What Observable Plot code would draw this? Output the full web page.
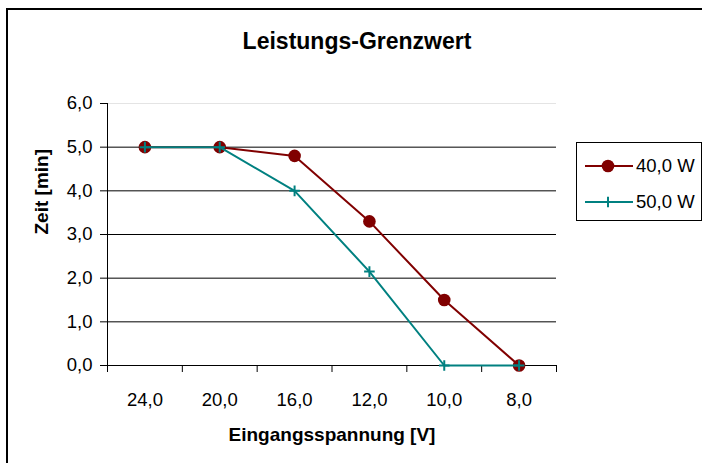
<!DOCTYPE html>
<html><head><meta charset="utf-8">
<script src="https://cdn.jsdelivr.net/npm/d3@7"></script>
<script src="https://cdn.jsdelivr.net/npm/@observablehq/plot@0.6"></script>
<style>
body{margin:0;background:#fff;overflow:hidden;font-family:"Liberation Sans",Arial,sans-serif;}
#wrap{position:relative;width:702px;height:463px;overflow:hidden;}
#chart{position:absolute;left:0;top:0;}
#border{position:absolute;left:6px;top:8px;width:800px;height:600px;border-left:2px solid #000;border-top:2px solid #000;pointer-events:none;}
#title{position:absolute;left:0;width:714px;top:29.5px;line-height:23px;text-align:center;font-weight:bold;font-size:23px;color:#000;}
#legend{position:absolute;left:576px;top:142px;width:124px;height:77px;border:1px solid #000;background:#fff;}
</style>
</head><body>
<div id="wrap">
  <div id="chart"></div>
  <div id="border"></div>
  <div id="title"></div>
  <div id="legend"></div>
</div>
<script>
const titleText = "Leistungs-Grenzwert";
const xTitle = "Eingangsspannung [V]";
const yTitle = "Zeit [min]";
const categories = ["24,0", "20,0", "16,0", "12,0", "10,0", "8,0"];
const series40 = [5.0, 5.0, 4.8, 3.3, 1.5, 0.0];
const series50 = [5.0, 5.0, 4.0, 2.15, 0.0, 0.0];
const seriesNames = ["40,0 W", "50,0 W"];
const seriesColors = ["#800000", "#008080"];
const yTicks = [0, 1, 2, 3, 4, 5, 6];

const fmt = d => d3.format(".1f")(d).replace(".", ",");
const idx = categories.map((_, i) => i);
const bounds = d3.range(categories.length + 1).map(i => i - 0.5);
const d40 = categories.map((c, i) => ({i, v: series40[i]}));
const d50 = categories.map((c, i) => ({i, v: series50[i]}));

const plusSymbol = {
  draw(ctx, size) {
    const r = Math.sqrt(size / Math.PI);
    ctx.moveTo(-r, 0); ctx.lineTo(r, 0);
    ctx.moveTo(0, -r); ctx.lineTo(0, r);
  }
};

const chart = Plot.plot({
  width: 702, height: 463,
  marginLeft: 107, marginRight: 146, marginTop: 103, marginBottom: 98,
  style: {fontFamily: "Liberation Sans, Arial, sans-serif", fontSize: "18.5px", color: "#000", background: "transparent"},
  x: {type: "linear", domain: [-0.5, categories.length - 0.5], axis: null, label: null},
  y: {domain: [0, 6], axis: null, label: null},
  marks: [
    Plot.ruleY(yTicks.filter(d => d > 0 && d < 6), {stroke: "#000", strokeWidth: 1}),
    Plot.ruleY(yTicks.filter(d => d === 6), {stroke: "#e4e4e4", strokeWidth: 1}),
    Plot.ruleY([0], {stroke: "#000", strokeWidth: 1}),
    Plot.ruleX([-0.5], {stroke: "#000", strokeWidth: 1}),
    Plot.axisY(yTicks, {tickSize: 7, tickPadding: 8, tickFormat: fmt, label: null, stroke: "#000"}),
    Plot.axisX(idx, {tickSize: 0, tickPadding: 27, tickFormat: i => categories[i], label: null}),
    Plot.axisX(bounds, {tickSize: 7, tickFormat: () => "", label: null, stroke: "#000"}),
    Plot.line(d40, {x: "i", y: "v", stroke: seriesColors[0], strokeWidth: 2}),
    Plot.dot(d40, {x: "i", y: "v", r: 6.3, fill: seriesColors[0], stroke: "none"}),
    Plot.line(d50, {x: "i", y: "v", stroke: seriesColors[1], strokeWidth: 2}),
    Plot.dot(d50, {x: "i", y: "v", r: 5.3, symbol: plusSymbol, stroke: seriesColors[1], strokeWidth: 2, fill: "none"}),
    Plot.text([yTitle], {text: d => d, frameAnchor: "left", dx: -66, rotate: -90, lineAnchor: "middle", fontWeight: "bold", fontSize: 19}),
    Plot.text([xTitle], {text: d => d, frameAnchor: "bottom", dy: 69, lineAnchor: "middle", fontWeight: "bold", fontSize: 19})
  ]
});
document.getElementById("chart").appendChild(chart);
document.getElementById("title").textContent = titleText;

// legend
const ns = "http://www.w3.org/2000/svg";
const lsvg = d3.create("svg").attr("width", 124).attr("height", 77);
const rowsY = [23, 59];
seriesNames.forEach((name, k) => {
  const g = lsvg.append("g").attr("transform", `translate(0,${rowsY[k]})`);
  g.append("line").attr("x1", 8).attr("x2", 56).attr("y1", 0).attr("y2", 0)
    .attr("stroke", seriesColors[k]).attr("stroke-width", 2);
  if (k === 0) {
    g.append("circle").attr("cx", 31).attr("cy", 0).attr("r", 6.3).attr("fill", seriesColors[k]);
  } else {
    g.append("path").attr("d", "M25.7,0H36.3M31,-5.3V5.3").attr("stroke", seriesColors[k]).attr("stroke-width", 2).attr("fill", "none");
  }
  g.append("text").attr("x", 59).attr("y", 0).attr("dy", "0.35em")
    .attr("font-size", "18.5px").attr("font-family", "Liberation Sans, Arial, sans-serif")
    .attr("fill", "#000").text(name);
});
document.getElementById("legend").appendChild(lsvg.node());
</script>
</body></html>
